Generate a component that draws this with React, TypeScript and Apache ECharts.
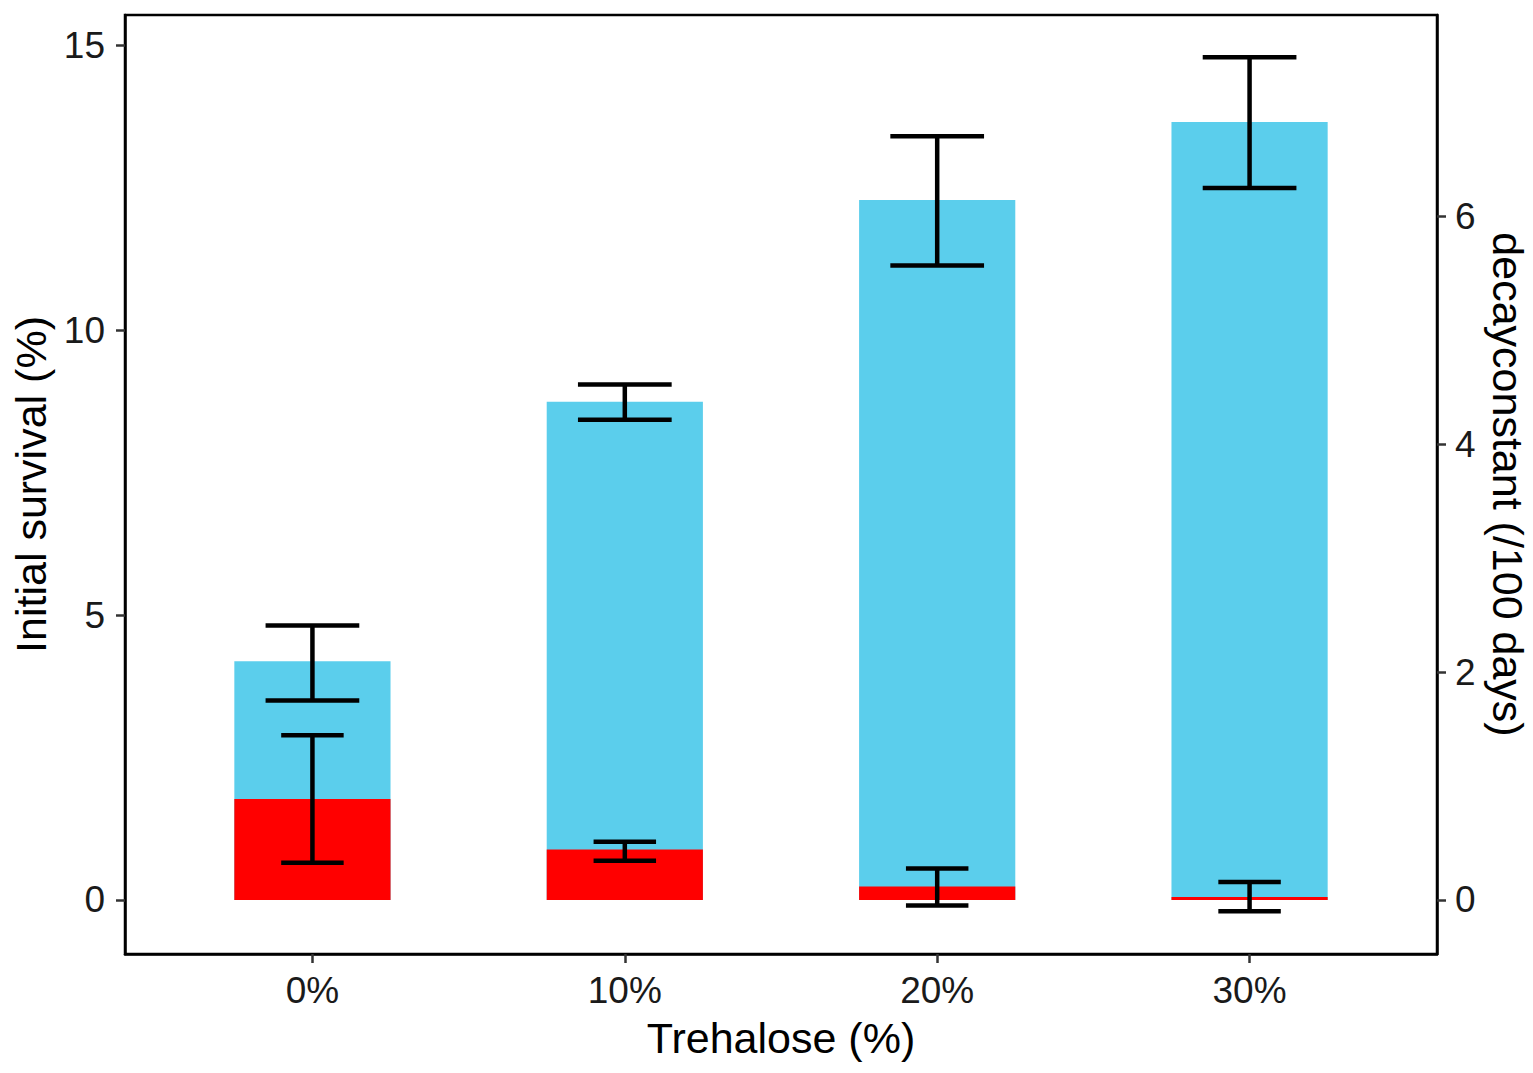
import React, { useEffect, useRef } from "react";
import * as echarts from "echarts";

const categories = ["0%", "10%", "20%", "30%"];
const xPositions = [0, 1, 2, 3];
const survival = [4.19, 8.75, 12.29, 13.66];
const survivalLow = [3.5, 8.43, 11.14, 12.5];
const survivalHigh = [4.82, 9.05, 13.41, 14.8];
const decay = [0.886, 0.442, 0.117, 0.026];
const decayLow = [0.327, 0.343, -0.05, -0.1];
const decayHigh = [1.445, 0.51, 0.275, 0.158];
const leftTicks = [0, 5, 10, 15];
const rightTicks = [0, 2, 4, 6];

const FONT = "'Liberation Sans', Arial, sans-serif";
const BAR_HALF = 0.25;

function barItem(color: string) {
  return (params: any, api: any) => {
    const x = api.value(0);
    const y = api.value(1);
    const p0 = api.coord([x - BAR_HALF, 0]);
    const p1 = api.coord([x + BAR_HALF, y]);
    return {
      type: "rect",
      shape: { x: p0[0], y: Math.min(p0[1], p1[1]), width: p1[0] - p0[0], height: Math.abs(p0[1] - p1[1]) },
      style: { fill: color },
    };
  };
}

function errItem(half: number) {
  return (params: any, api: any) => {
    const x = api.value(0);
    const lo = api.value(1);
    const hi = api.value(2);
    const a = api.coord([x, hi]);
    const b = api.coord([x, lo]);
    const l = api.coord([x - half, hi]);
    const r = api.coord([x + half, hi]);
    const style = { stroke: "#000", lineWidth: 4.5 };
    return {
      type: "group",
      children: [
        { type: "line", shape: { x1: a[0], y1: a[1], x2: b[0], y2: b[1] }, style },
        { type: "line", shape: { x1: l[0], y1: a[1], x2: r[0], y2: a[1] }, style },
        { type: "line", shape: { x1: l[0], y1: b[1], x2: r[0], y2: b[1] }, style },
      ],
    };
  };
}

export default function App() {
  const ref = useRef<HTMLDivElement>(null);
  useEffect(() => {
    document.body.style.margin = "0";
    const chart = echarts.init(ref.current!, null, { renderer: "svg" });
    const axisLine = { show: true, onZero: false, lineStyle: { color: "#000", width: 2.5 } };
    const axisTickStyle = { color: "#333", width: 2.5 };
    const labelStyle = { fontSize: 37, color: "#1a1a1a", fontFamily: FONT };
    chart.setOption({
      animation: false,
      grid: {
        left: 125,
        right: 96,
        top: 15,
        bottom: 119,
        show: true,
        borderColor: "#000",
        borderWidth: 2.5,
        containLabel: false,
        outerBoundsMode: "none",
      },
      xAxis: {
        type: "value",
        min: -0.6,
        max: 3.6,
        axisLine,
        splitLine: { show: false },
        axisTick: { show: true, length: 9, customValues: xPositions, lineStyle: axisTickStyle },
        axisLabel: {
          ...labelStyle,
          margin: 18,
          customValues: xPositions,
          formatter: (v: number) => categories[Math.round(v)] ?? "",
        },
        name: "Trehalose (%)",
        nameLocation: "middle",
        nameGap: 62,
        nameTextStyle: { fontSize: 43, color: "#000", fontFamily: FONT },
      },
      yAxis: [
        {
          type: "value",
          position: "left",
          min: -0.95,
          max: 15.54,
          axisLine,
          splitLine: { show: false },
          axisTick: { show: true, length: 9, customValues: leftTicks, lineStyle: axisTickStyle },
          axisLabel: { ...labelStyle, margin: 20, customValues: leftTicks },
          name: "Initial survival (%)",
          nameLocation: "middle",
          nameRotate: 90,
          nameGap: 72,
          nameTextStyle: { fontSize: 43, color: "#000", fontFamily: FONT },
        },
        {
          type: "value",
          position: "right",
          min: -0.475,
          max: 7.77,
          axisLine,
          splitLine: { show: false },
          axisTick: { show: true, length: 9, customValues: rightTicks, lineStyle: axisTickStyle },
          axisLabel: { ...labelStyle, margin: 18, customValues: rightTicks },
          name: "decayconstant (/100 days)",
          nameLocation: "middle",
          nameRotate: -90,
          nameGap: 46,
          nameTextStyle: { fontSize: 43, color: "#000", fontFamily: FONT },
        },
      ],
      series: [
        {
          type: "custom",
          name: "Initial survival",
          yAxisIndex: 0,
          renderItem: barItem("#5BCEEC"),
          data: xPositions.map((x, i) => [x, survival[i]]),
          z: 1,
        },
        {
          type: "custom",
          name: "decayconstant",
          yAxisIndex: 1,
          renderItem: barItem("#FF0000"),
          data: xPositions.map((x, i) => [x, decay[i]]),
          z: 2,
        },
        {
          type: "custom",
          name: "survival error",
          yAxisIndex: 0,
          renderItem: errItem(0.15),
          data: xPositions.map((x, i) => [x, survivalLow[i], survivalHigh[i]]),
          z: 3,
        },
        {
          type: "custom",
          name: "decay error",
          yAxisIndex: 1,
          renderItem: errItem(0.1),
          data: xPositions.map((x, i) => [x, decayLow[i], decayHigh[i]]),
          z: 3,
        },
      ],
    });
    return () => chart.dispose();
  }, []);
  return <div ref={ref} style={{ width: 1533, height: 1073 }} />;
}
